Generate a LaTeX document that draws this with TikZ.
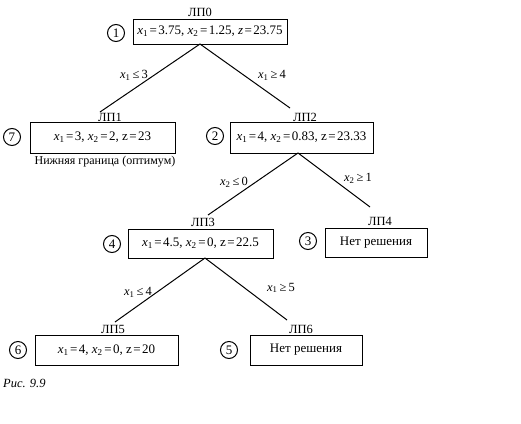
\documentclass[tikz,border=0pt]{standalone}
\usepackage{fontspec}
\setmainfont{Liberation Serif}
\begin{document}
\begin{tikzpicture}[x=1pt,y=-1pt,
  box/.style={draw,line width=1pt,minimum height=#1,inner sep=0pt,font=\fontsize{13}{15}\selectfont},
  tag/.style={inner sep=0pt,font=\fontsize{12.5}{14}\selectfont},
  num/.style={draw,circle,line width=1pt,minimum size=17pt,inner sep=0pt,font=\fontsize{13}{15}\selectfont},
  edgelab/.style={inner sep=0pt,font=\fontsize{12.5}{14}\selectfont},
  branch/.style={line width=1pt}]
\useasboundingbox (0,0) rectangle (521,423);
\newcommand{\xa}{\textit{x}\textsubscript{1}}
\newcommand{\xb}{\textit{x}\textsubscript{2}}
\newcommand{\eq}{\hspace{1.5pt}=\hspace{1.5pt}}
% boxes
\node[box=25pt,minimum width=154pt] (b0) at (210,31.5) {\xa\eq3.75, \xb\eq1.25, \textit{z}\eq23.75};
\node[box=31pt,minimum width=145pt] (b1) at (102.5,137.5) {\xa\eq3, \xb\eq2, z\eq23};
\node[box=31pt,minimum width=143pt] (b2) at (301.5,137.5) {\xa\eq4, \xb\eq0.83, z\eq23.33};
\node[box=29pt,minimum width=145pt] (b3) at (200.5,243.5) {\xa\eq4.5, \xb\eq0, z\eq22.5};
\node[box=29pt,minimum width=102pt] (b4) at (376,242.5) {Нет решения};
\node[box=30pt,minimum width=143pt] (b5) at (106.5,350) {\xa\eq4, \xb\eq0, z\eq20};
\node[box=30pt,minimum width=112pt] (b6) at (306,350) {Нет решения};
% labels
\node[tag] (l0) at (200,12) {ЛП0};
\node[tag] (l1) at (110,117) {ЛП1};
\node[tag] (l2) at (305,117) {ЛП2};
\node[tag] (l3) at (203,222) {ЛП3};
\node[tag] (l4) at (380,221) {ЛП4};
\node[tag] (l5) at (113,329) {ЛП5};
\node[tag] (l6) at (301,329) {ЛП6};
\node[tag,font=\fontsize{12}{14}\selectfont] (note) at (105,162) {Нижняя граница (оптимум)};
\node[tag,anchor=west,font=\itshape\fontsize{12.5}{14}\selectfont] (cap) at (3,383) {Рис. 9.9};
% circled numbers
\node[num] (c1) at (116,33) {1};
\node[num] (c7) at (12,137) {7};
\node[num] (c2) at (215,136) {2};
\node[num] (c4) at (112,244) {4};
\node[num] (c3) at (308,241) {3};
\node[num] (c6) at (18,350) {6};
\node[num] (c5) at (229,350) {5};
% branch points
\coordinate (p0) at (200,44);
\coordinate (p2) at (298,153);
\coordinate (p3) at (205,258);
\coordinate (a1) at (100,112);
\coordinate (a2) at (290,108);
\coordinate (a3) at (208,215);
\coordinate (a4) at (370,207);
\coordinate (a5) at (115,322);
\coordinate (a6) at (287,320);
\draw[branch] (p0) -- (a1);
\draw[branch] (p0) -- (a2);
\draw[branch] (p2) -- (a3);
\draw[branch] (p2) -- (a4);
\draw[branch] (p3) -- (a5);
\draw[branch] (p3) -- (a6);
% edge labels
\node[edgelab] (e1) at (134,75) {\xa\,≤\,3};
\node[edgelab] (e2) at (272,75) {\xa\,≥\,4};
\node[edgelab] (e3) at (234,182) {\xb\,≤\,0};
\node[edgelab] (e4) at (358,178) {\xb\,≥\,1};
\node[edgelab] (e5) at (138,292) {\xa\,≤\,4};
\node[edgelab] (e6) at (281,288) {\xa\,≥\,5};
\end{tikzpicture}
\end{document}
